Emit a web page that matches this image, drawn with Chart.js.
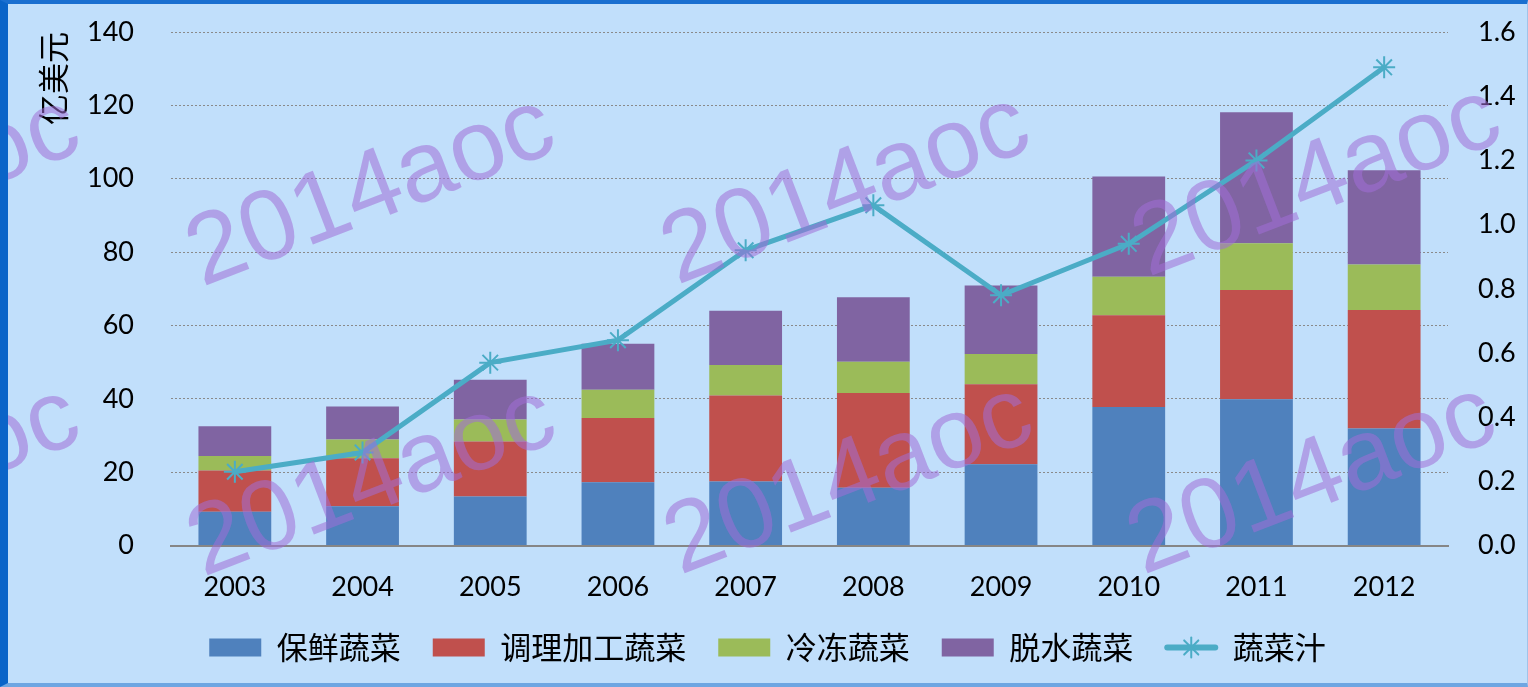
<!DOCTYPE html>
<html>
<head>
<meta charset="utf-8">
<script src="https://cdn.jsdelivr.net/npm/chart.js@4/dist/chart.umd.min.js"></script>
<style>
  html, body { margin: 0; padding: 0; background: #c1dffb; }
  #box {
    position: absolute; left: 0; top: 0;
    width: 1528px; height: 687px; box-sizing: border-box;
    background: #c1dffb;
    border-left: 8px solid #0a64c8;
    border-top: 4px solid #1a6fd0;
    border-bottom: 4px solid #6ea6e2;
    border-right: 1px solid #9fc4ea;
  }
  #wrap { position: relative; width: 1519px; height: 679px; }
</style>
</head>
<body>
<div id="box"><div id="wrap"><canvas id="vegChart"></canvas></div></div>
<script>
// datos
const years = ['2003', '2004', '2005', '2006', '2007', '2008', '2009', '2010', '2011', '2012'];
const names = ['保鲜蔬菜', '调理加工蔬菜', '冷冻蔬菜', '脱水蔬菜', '蔬菜汁'];
const fresh = [9.2, 10.7, 13.4, 17.3, 17.5, 15.8, 22.2, 37.8, 39.9, 31.9];
const processed = [11.3, 13.1, 15.0, 17.5, 23.4, 25.8, 21.8, 25.0, 29.8, 32.3];
const frozen = [3.9, 5.1, 6.0, 7.7, 8.3, 8.5, 8.2, 10.5, 12.7, 12.4];
const dried = [8.1, 9.0, 10.8, 12.5, 14.8, 17.6, 18.7, 27.3, 35.7, 25.7];
const juice = [0.23, 0.29, 0.57, 0.64, 0.92, 1.06, 0.78, 0.94, 1.20, 1.49];
const colors = ['#4f81bd', '#c0504d', '#9bbb59', '#8064a2', '#4bacc6'];

const tickFont = { family: 'Lato, "Open Sans", sans-serif', size: 27 };
const cjkFont = { family: '"Noto Sans CJK SC", sans-serif', size: 31 };

function barSet(i, values) {
    return {
        type: 'bar',
        label: names[i],
        data: values,
        backgroundColor: colors[i],
        borderWidth: 0,
        categoryPercentage: 1,
        barPercentage: 0.57,
        stack: 'veg',
        yAxisID: 'y',
        order: 1
    };
}

// marca de agua + leyenda de la linea
const extras = {
    id: 'extras',
    afterDraw(chart) {
        const ctx = chart.ctx;
        // leyenda: linea con asterisco
        const lg = chart.legend;
        lg.legendItems.forEach((item, k) => {
            if (item.datasetIndex !== 4) return;
            const hb = lg.legendHitBoxes[k];
            const bw = lg.options.labels.boxWidth;
            const cy = hb.top + hb.height / 2;
            ctx.save();
            ctx.strokeStyle = colors[4];
            ctx.lineCap = 'round';
            ctx.lineWidth = 6;
            ctx.beginPath();
            ctx.moveTo(hb.left + 2, cy);
            ctx.lineTo(hb.left + bw - 2, cy);
            ctx.stroke();
            ctx.lineWidth = 2;
            const r = 10;
            for (let a = 0; a < 4; a++) {
                const t = a * Math.PI / 4;
                ctx.beginPath();
                ctx.moveTo(hb.left + bw / 2 - r * Math.cos(t), cy - r * Math.sin(t));
                ctx.lineTo(hb.left + bw / 2 + r * Math.cos(t), cy + r * Math.sin(t));
                ctx.stroke();
            }
            ctx.restore();
        });
        // watermark
        ctx.save();
        ctx.fillStyle = 'rgba(160, 110, 215, 0.55)';
        ctx.font = '100px "Liberation Sans", Arial, sans-serif';
        ctx.textBaseline = 'alphabetic';
        ctx.textAlign = 'left';
        const spots = [[-281, 283], [194, 283], [669, 281], [1140, 273],
                       [-281, 573], [195, 573], [672, 571], [1135, 571]];
        spots.forEach(p => {
            ctx.save();
            ctx.translate(p[0], p[1]);
            ctx.rotate(-21 * Math.PI / 180);
            ctx.fillText('2014aoc', 0, 0);
            ctx.restore();
        });
        ctx.restore();
    }
};

const vegData = {
    labels: years,
    datasets: [
        barSet(0, fresh),
        barSet(1, processed),
        barSet(2, frozen),
        barSet(3, dried),
        {
            type: 'line',
            label: names[4],
            data: juice,
            yAxisID: 'y1',
            borderColor: colors[4],
            backgroundColor: colors[4],
            borderWidth: 5,
            tension: 0,
            pointStyle: 'star',
            pointRadius: 11,
            pointBorderWidth: 2,
            pointBorderColor: colors[4],
            order: 0
        }
    ]
};

// los ejes verticales no reservan espacio arriba/abajo
function noPad(scale) {
    scale.paddingTop = 0;
    scale.paddingBottom = 0;
}

const vegConfig = {
    data: vegData,
    plugins: [extras],
    options: {
        responsive: true,
        maintainAspectRatio: false,
        animation: false,
        layout: { padding: { top: 28, bottom: 10, left: 0, right: 0 } },
        plugins: {
            tooltip: { enabled: false },
            legend: {
                position: 'bottom',
                labels: {
                    font: cjkFont,
                    color: '#000',
                    boxWidth: 52,
                    boxHeight: 18,
                    padding: 32,
                    sort: (a, b) => a.datasetIndex - b.datasetIndex,
                    generateLabels(chart) {
                        const items = Chart.defaults.plugins.legend.labels.generateLabels(chart);
                        items.forEach(it => {
                            if (it.datasetIndex === 4) {
                                it.fillStyle = 'rgba(0,0,0,0)';
                                it.strokeStyle = 'rgba(0,0,0,0)';
                                it.lineWidth = 0;
                            }
                        });
                        return items;
                    }
                }
            }
        },
        scales: {
            x: {
                stacked: true,
                grid: { display: false },
                border: { display: true, color: '#868686', width: 2 },
                ticks: { font: tickFont, color: '#000', padding: 17, maxRotation: 0 },
                afterFit(scale) { scale.height -= 20; }
            },
            y: {
                stacked: true,
                position: 'left',
                min: 0,
                max: 140,
                ticks: { stepSize: 20, font: tickFont, color: '#000', padding: 37 },
                grid: { color: '#8a8a8a', lineWidth: 1, drawTicks: false },
                border: { display: false, dash: [2, 2] },
                title: {
                    display: true,
                    text: '亿美元',
                    align: 'end',
                    font: cjkFont,
                    color: '#000',
                    padding: { top: 27, bottom: 0 }
                },
                afterFit(scale) { scale.width = 163; noPad(scale); }
            },
            y1: {
                position: 'right',
                min: 0,
                max: 1.6,
                ticks: {
                    stepSize: 0.2,
                    font: tickFont,
                    color: '#000',
                    padding: 30,
                    callback: v => v.toFixed(1)
                },
                grid: { display: false, drawTicks: false },
                border: { display: false },
                afterFit(scale) { scale.width = 79; noPad(scale); }
            }
        }
    }
};

const vegChart = new Chart(document.querySelector('#vegChart'), vegConfig);
</script>
</body>
</html>
